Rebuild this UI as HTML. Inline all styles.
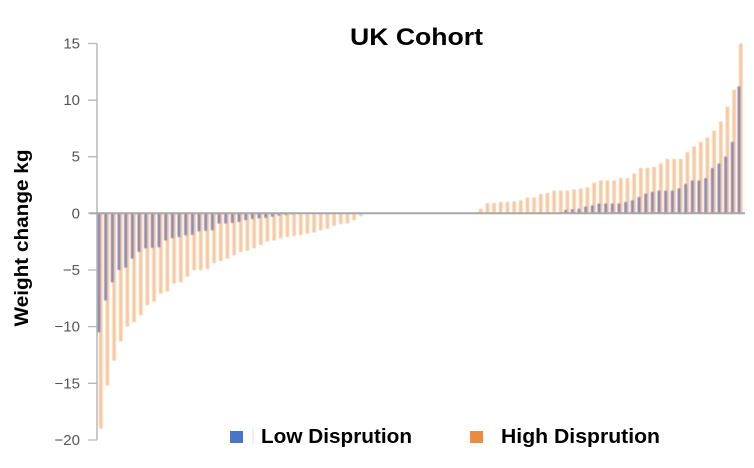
<!DOCTYPE html>
<html>
<head>
<meta charset="utf-8">
<style>
  html, body { margin: 0; padding: 0; background: #ffffff; }
  body { width: 754px; height: 468px; overflow: hidden; }
  svg { display: block; }
  text { font-family: "Liberation Sans", Arial, sans-serif; }
</style>
</head>
<body>
<svg width="754" height="468" viewBox="0 0 754 468" xmlns="http://www.w3.org/2000/svg">
  <defs>
    <filter id="bl" x="-5%" y="-5%" width="110%" height="110%">
      <feGaussianBlur stdDeviation="0.55"/>
    </filter>
  </defs>
  <rect x="0" y="0" width="754" height="468" fill="#ffffff"/>

  <text x="350" y="45" font-size="24" font-weight="bold" fill="#000" textLength="133" lengthAdjust="spacingAndGlyphs">UK Cohort</text>

  <text transform="translate(28,238) rotate(-90)" text-anchor="middle" font-size="19" font-weight="bold" fill="#000" textLength="177" lengthAdjust="spacingAndGlyphs">Weight change kg</text>

  <line x1="97" y1="43.5" x2="97" y2="440" stroke="#b8b8b8" stroke-width="1.5"/>
  <path d="M88 43.5H97M88 100.2H97M88 156.7H97M88 213.3H97M88 270H97M88 326.6H97M88 383.3H97M88 440H97" stroke="#b8b8b8" stroke-width="1.3" fill="none"/>
  <g font-size="15" fill="#555" text-anchor="end">
    <text x="80" y="48.5">15</text>
    <text x="80" y="105.2">10</text>
    <text x="80" y="161.7">5</text>
    <text x="80" y="218.5">0</text>
    <text x="80" y="275">−5</text>
    <text x="80" y="331.6">−10</text>
    <text x="80" y="388.3">−15</text>
    <text x="80" y="445">−20</text>
  </g>

  <g filter="url(#bl)">
  <g transform="translate(100,213.3) scale(6.667,-11.33)">
    <path fill="#f6c9a0" d="M-0.15 0h0.525V-19h-0.525z M0.85 0h0.525V-15.2h-0.525z M1.85 0h0.525V-13h-0.525z M2.85 0h0.525V-11.3h-0.525z M3.85 0h0.525V-10h-0.525z M4.85 0h0.525V-9.6h-0.525z M5.85 0h0.525V-9h-0.525z M6.85 0h0.525V-8.1h-0.525z M7.85 0h0.525V-7.8h-0.525z M8.85 0h0.525V-7.1h-0.525z M9.85 0h0.525V-6.9h-0.525z M10.85 0h0.525V-6.2h-0.525z M11.85 0h0.525V-6.1h-0.525z M12.85 0h0.525V-5.6h-0.525z M13.85 0h0.525V-5h-0.525z M14.85 0h0.525V-5h-0.525z M15.85 0h0.525V-4.9h-0.525z M16.85 0h0.525V-4.4h-0.525z M17.85 0h0.525V-4.2h-0.525z M18.85 0h0.525V-4h-0.525z M19.85 0h0.525V-3.7h-0.525z M20.85 0h0.525V-3.4h-0.525z M21.85 0h0.525V-3.3h-0.525z M22.85 0h0.525V-3.1h-0.525z M23.85 0h0.525V-2.8h-0.525z M24.85 0h0.525V-2.5h-0.525z M25.85 0h0.525V-2.4h-0.525z M26.85 0h0.525V-2.2h-0.525z M27.85 0h0.525V-2.1h-0.525z M28.85 0h0.525V-2h-0.525z M29.85 0h0.525V-1.9h-0.525z M30.85 0h0.525V-1.8h-0.525z M31.85 0h0.525V-1.7h-0.525z M32.85 0h0.525V-1.5h-0.525z M33.85 0h0.525V-1.35h-0.525z M34.85 0h0.525V-1.1h-0.525z M35.85 0h0.525V-0.95h-0.525z M36.85 0h0.525V-0.9h-0.525z M37.85 0h0.525V-0.6h-0.525z M38.85 0h0.525V-0.25h-0.525z
M56.85 0h0.525V0.4h-0.525z M57.85 0h0.525V0.9h-0.525z M58.85 0h0.525V0.9h-0.525z M59.85 0h0.525V1h-0.525z M60.85 0h0.525V1h-0.525z M61.85 0h0.525V1.05h-0.525z M62.85 0h0.525V1.15h-0.525z M63.85 0h0.525V1.4h-0.525z M64.85 0h0.525V1.4h-0.525z M65.85 0h0.525V1.7h-0.525z M66.85 0h0.525V1.8h-0.525z M67.85 0h0.525V2h-0.525z M68.85 0h0.525V2h-0.525z M69.85 0h0.525V2h-0.525z M70.85 0h0.525V2.1h-0.525z M71.85 0h0.525V2.2h-0.525z M72.85 0h0.525V2.3h-0.525z M73.85 0h0.525V2.7h-0.525z M74.85 0h0.525V2.9h-0.525z M75.85 0h0.525V2.9h-0.525z M76.85 0h0.525V2.9h-0.525z M77.85 0h0.525V3.1h-0.525z M78.85 0h0.525V3.1h-0.525z M79.85 0h0.525V3.5h-0.525z M80.85 0h0.525V4h-0.525z M81.85 0h0.525V4h-0.525z M82.85 0h0.525V4.1h-0.525z M83.85 0h0.525V4.4h-0.525z M84.85 0h0.525V4.8h-0.525z M85.85 0h0.525V4.8h-0.525z M86.85 0h0.525V4.8h-0.525z M87.85 0h0.525V5.4h-0.525z M88.85 0h0.525V5.9h-0.525z M89.85 0h0.525V6.3h-0.525z M90.85 0h0.525V6.7h-0.525z M91.85 0h0.525V7.3h-0.525z M92.85 0h0.525V8.1h-0.525z M93.85 0h0.525V9.4h-0.525z M94.85 0h0.525V10.9h-0.525z M95.85 0h0.525V15h-0.525z"/>
    <path fill="#8f8bae" d="M-0.375 0h0.45V-10.5h-0.45z M0.625 0h0.45V-7.7h-0.45z M1.625 0h0.45V-6.1h-0.45z M2.625 0h0.45V-5h-0.45z M3.625 0h0.45V-4.8h-0.45z M4.625 0h0.45V-4h-0.45z M5.625 0h0.45V-3.4h-0.45z M6.625 0h0.45V-3.1h-0.45z M7.625 0h0.45V-3.05h-0.45z M8.625 0h0.45V-3h-0.45z M9.625 0h0.45V-2.4h-0.45z M10.625 0h0.45V-2.2h-0.45z M11.625 0h0.45V-2.1h-0.45z M12.625 0h0.45V-1.95h-0.45z M13.625 0h0.45V-1.9h-0.45z M14.625 0h0.45V-1.6h-0.45z M15.625 0h0.45V-1.55h-0.45z M16.625 0h0.45V-1.5h-0.45z M17.625 0h0.45V-0.9h-0.45z M18.625 0h0.45V-0.9h-0.45z M19.625 0h0.45V-0.85h-0.45z M20.625 0h0.45V-0.77h-0.45z M21.625 0h0.45V-0.6h-0.45z M22.625 0h0.45V-0.5h-0.45z M23.625 0h0.45V-0.45h-0.45z M24.625 0h0.45V-0.4h-0.45z M25.625 0h0.45V-0.3h-0.45z M26.625 0h0.45V-0.2h-0.45z M27.625 0h0.45V-0.15h-0.45z M28.625 0h0.45V-0.1h-0.45z
M69.625 0h0.45V0.3h-0.45z M70.625 0h0.45V0.35h-0.45z M71.625 0h0.45V0.4h-0.45z M72.625 0h0.45V0.6h-0.45z M73.625 0h0.45V0.7h-0.45z M74.625 0h0.45V0.86h-0.45z M75.625 0h0.45V0.86h-0.45z M76.625 0h0.45V0.86h-0.45z M77.625 0h0.45V0.86h-0.45z M78.625 0h0.45V1h-0.45z M79.625 0h0.45V1.15h-0.45z M80.625 0h0.45V1.44h-0.45z M81.625 0h0.45V1.74h-0.45z M82.625 0h0.45V1.9h-0.45z M83.625 0h0.45V2h-0.45z M84.625 0h0.45V2h-0.45z M85.625 0h0.45V2h-0.45z M86.625 0h0.45V2.2h-0.45z M87.625 0h0.45V2.6h-0.45z M88.625 0h0.45V2.9h-0.45z M89.625 0h0.45V2.9h-0.45z M90.625 0h0.45V3.1h-0.45z M91.625 0h0.45V4h-0.45z M92.625 0h0.45V4.4h-0.45z M93.625 0h0.45V5h-0.45z M94.625 0h0.45V6.3h-0.45z M95.625 0h0.45V11.2h-0.45z"/>
  </g>
  </g>

  <line x1="90" y1="213.3" x2="745" y2="213.3" stroke="#a8a8a8" stroke-width="2"/>

  <rect x="230" y="431" width="13" height="12" fill="#4a74c6"/>
  <line x1="253" y1="428" x2="253" y2="444" stroke="#e2e2e2" stroke-width="1"/>
  <text x="261" y="443" font-size="20" font-weight="bold" fill="#000" textLength="151" lengthAdjust="spacingAndGlyphs">Low Disprution</text>
  <rect x="470" y="431" width="13" height="12" fill="#ec8a40"/>
  <text x="501" y="443" font-size="20" font-weight="bold" fill="#000" textLength="159" lengthAdjust="spacingAndGlyphs">High Disprution</text>
</svg>
</body>
</html>
